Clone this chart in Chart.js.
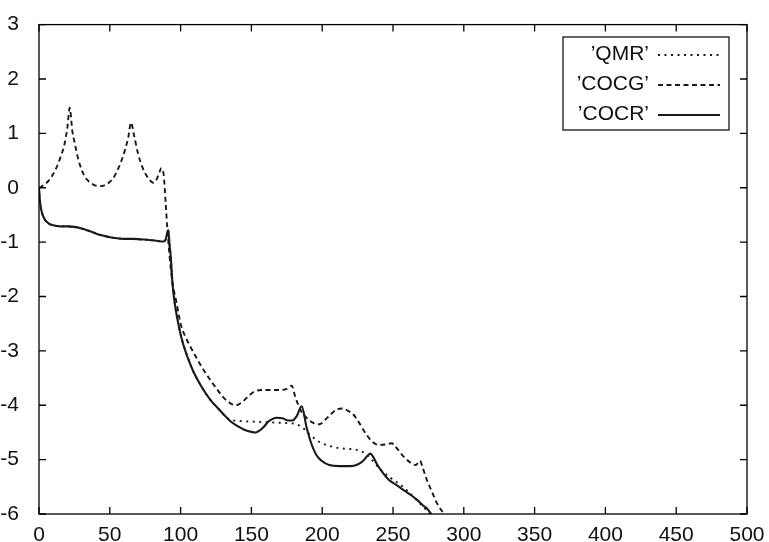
<!DOCTYPE html>
<html>
<head>
<meta charset="utf-8">
<script src="https://cdn.jsdelivr.net/npm/chart.js@4/dist/chart.umd.min.js"></script>
<style>
html,body{margin:0;padding:0;background:#fff;}
#wrap{width:769px;height:542px;}
</style>
</head>
<body>
<div id="wrap"><canvas id="c" width="769" height="542"></canvas></div>
<script>
// ---- data ----
const xTicks = [0,50,100,150,200,250,300,350,400,450,500];
const yTicks = [-6,-5,-4,-3,-2,-1,0,1,2,3];

const seriesNames = ["’QMR’", "’COCG’", "’COCR’"];

const qmrX = [0,0.7,2,4,7,10,15,20,25,30,35,40,45,50,55,60,66,72,78,84,88,89.5,91.3,92.2,93,94.4,96,98,101,105,109,115,121,128,132,136,142,150,160,168,176,182,187,191,195,199,204,210,216,222,227,231,235,239.6,244,248,253,257,262,267,271,274,276];
const qmrY = [0,-0.25,-0.45,-0.58,-0.66,-0.69,-0.71,-0.71,-0.72,-0.75,-0.79,-0.84,-0.88,-0.91,-0.93,-0.94,-0.94,-0.95,-0.96,-0.98,-0.99,-0.95,-0.78,-1.05,-1.26,-1.8,-2.15,-2.45,-2.8,-3.12,-3.38,-3.67,-3.9,-4.1,-4.22,-4.27,-4.29,-4.3,-4.31,-4.32,-4.33,-4.35,-4.43,-4.53,-4.62,-4.69,-4.74,-4.78,-4.8,-4.81,-4.84,-4.9,-5.0,-5.14,-5.25,-5.33,-5.42,-5.5,-5.62,-5.75,-5.86,-5.94,-6];

const cocgX = [0,4,8,12,15,18,20,21.7,23.5,25,28,32,36,40,44,48,52,55,58,61,63,65,67,70,73,76,79,81,83,85,86.3,88,89.5,90.5,92,94,97,100,103,106,110,115,120,125,130,135,139,143,148,152,157,163,170,175,178.5,181,185,190,194,198,202,206,210,214,218,222,226,231,235,240,245,249,253,257,262,266,269,271,274,278,281,286];
const cocgY = [0,0.06,0.17,0.35,0.55,0.8,1.1,1.47,1.05,0.85,0.5,0.22,0.1,0.04,0.03,0.07,0.16,0.3,0.48,0.72,0.92,1.2,0.98,0.62,0.38,0.22,0.12,0.09,0.15,0.28,0.36,0.25,-0.3,-0.7,-1.2,-1.7,-2.1,-2.5,-2.72,-2.88,-3.07,-3.3,-3.5,-3.68,-3.85,-3.96,-4.0,-3.95,-3.83,-3.75,-3.72,-3.72,-3.72,-3.7,-3.64,-3.85,-4.1,-4.26,-4.33,-4.35,-4.27,-4.17,-4.08,-4.06,-4.1,-4.17,-4.32,-4.53,-4.66,-4.73,-4.72,-4.7,-4.8,-4.93,-5.05,-5.1,-5.02,-5.15,-5.38,-5.62,-5.8,-6];

const cocrX = [0,0.7,2,4,7,10,15,20,25,30,35,40,45,50,55,60,66,72,78,84,88,89.5,91.3,92.2,93,94.4,96,98,101,105,109,115,121,128,135,140,145,150,153,156,159,162,165,168,172,176,179,182,185.5,189,192,196,200,205,212,220,225,229,232,234,236,239,243,247,252,257,262,267,271,274,277];
const cocrY = [0,-0.25,-0.45,-0.58,-0.66,-0.69,-0.71,-0.71,-0.72,-0.75,-0.79,-0.84,-0.88,-0.91,-0.93,-0.94,-0.94,-0.95,-0.96,-0.98,-0.99,-0.95,-0.78,-1.05,-1.26,-1.8,-2.15,-2.45,-2.8,-3.12,-3.38,-3.67,-3.9,-4.1,-4.29,-4.38,-4.45,-4.49,-4.5,-4.46,-4.39,-4.3,-4.25,-4.23,-4.24,-4.28,-4.28,-4.2,-4.02,-4.41,-4.68,-4.92,-5.03,-5.1,-5.12,-5.12,-5.09,-5.02,-4.93,-4.89,-4.95,-5.1,-5.25,-5.37,-5.46,-5.55,-5.64,-5.74,-5.84,-5.9,-6];

function pts(xs, ys){ return xs.map((x,i)=>({x:x, y:ys[i]})); }

const INK = '#1a1a1a';
const FONT = '"Liberation Sans", Arial, Helvetica, sans-serif';
const FSIZE = 21;

const dashes = [[2,4.5],[5,3.5],[]];
const widths = [1.9,1.9,2.1];

// custom frame with inward ticks on all four sides, plus gnuplot-style key
const framePlugin = {
  id:'frame',
  afterDatasetsDraw(chart){
    const {ctx, chartArea:a, scales:{x, y}} = chart;
    ctx.save();
    ctx.strokeStyle = '#000';
    ctx.lineWidth = 1.3;
    ctx.setLineDash([]);
    ctx.strokeRect(a.left, a.top, a.right-a.left, a.bottom-a.top);
    const L = 7;
    ctx.beginPath();
    xTicks.forEach(v=>{
      const px = x.getPixelForValue(v);
      ctx.moveTo(px, a.bottom); ctx.lineTo(px, a.bottom-L);
      ctx.moveTo(px, a.top); ctx.lineTo(px, a.top+L);
    });
    yTicks.forEach(v=>{
      const py = y.getPixelForValue(v);
      ctx.moveTo(a.left, py); ctx.lineTo(a.left+L, py);
      ctx.moveTo(a.right, py); ctx.lineTo(a.right-L, py);
    });
    ctx.stroke();
    ctx.restore();
  },
  afterDraw(chart){
    const {ctx, chartArea:a} = chart;
    const bx = a.left + 524, by = 37, bw = 166, bh = 93;
    ctx.save();
    ctx.fillStyle = '#fff';
    ctx.fillRect(bx, by, bw, bh);
    ctx.strokeStyle = '#000';
    ctx.lineWidth = 1.2;
    ctx.strokeRect(bx, by, bw, bh);
    ctx.font = FSIZE + 'px ' + FONT;
    ctx.textAlign = 'right';
    ctx.textBaseline = 'middle';
    ctx.fillStyle = '#111';
    chart.data.datasets.forEach((ds, i)=>{
      const cy = by + 17 + i*30;
      ctx.fillText(ds.label, bx + 86, cy);
      ctx.beginPath();
      ctx.setLineDash(ds.borderDash || []);
      ctx.lineWidth = ds.borderWidth;
      ctx.strokeStyle = ds.borderColor;
      ctx.moveTo(bx + 95, cy + 1);
      ctx.lineTo(bx + 157, cy + 1);
      ctx.stroke();
    });
    ctx.restore();
  }
};

const seriesData = [pts(qmrX,qmrY), pts(cocgX,cocgY), pts(cocrX,cocrY)];

new Chart(document.getElementById('c'), {
  type:'line',
  data:{
    datasets: seriesNames.map((n,i)=>({
      label:n,
      data:seriesData[i],
      borderColor:INK,
      borderWidth:widths[i],
      borderDash:dashes[i],
      pointRadius:0,
      fill:false,
      cubicInterpolationMode:'monotone',
      order: 2 - i
    }))
  },
  options:{
    responsive:false,
    animation:false,
    devicePixelRatio:1,
    layout:{padding:{top:19,right:22,left:0,bottom:0}},
    plugins:{legend:{display:false}, tooltip:{enabled:false}},
    scales:{
      x:{
        type:'linear', min:0, max:500,
        afterBuildTicks(s){ s.ticks = xTicks.map(v=>({value:v})); },
        afterFit(s){ s.height = 28; },
        grid:{display:false},
        border:{display:false},
        ticks:{color:'#111', font:{family:FONT, size:FSIZE}, padding:1, maxRotation:0}
      },
      y:{
        type:'linear', min:-6, max:3,
        afterBuildTicks(s){ s.ticks = yTicks.map(v=>({value:v})); },
        afterFit(s){ s.width = 39; },
        grid:{display:false},
        border:{display:false},
        ticks:{color:'#111', font:{family:FONT, size:FSIZE}, padding:12}
      }
    }
  },
  plugins:[framePlugin]
});
</script>
</body>
</html>
